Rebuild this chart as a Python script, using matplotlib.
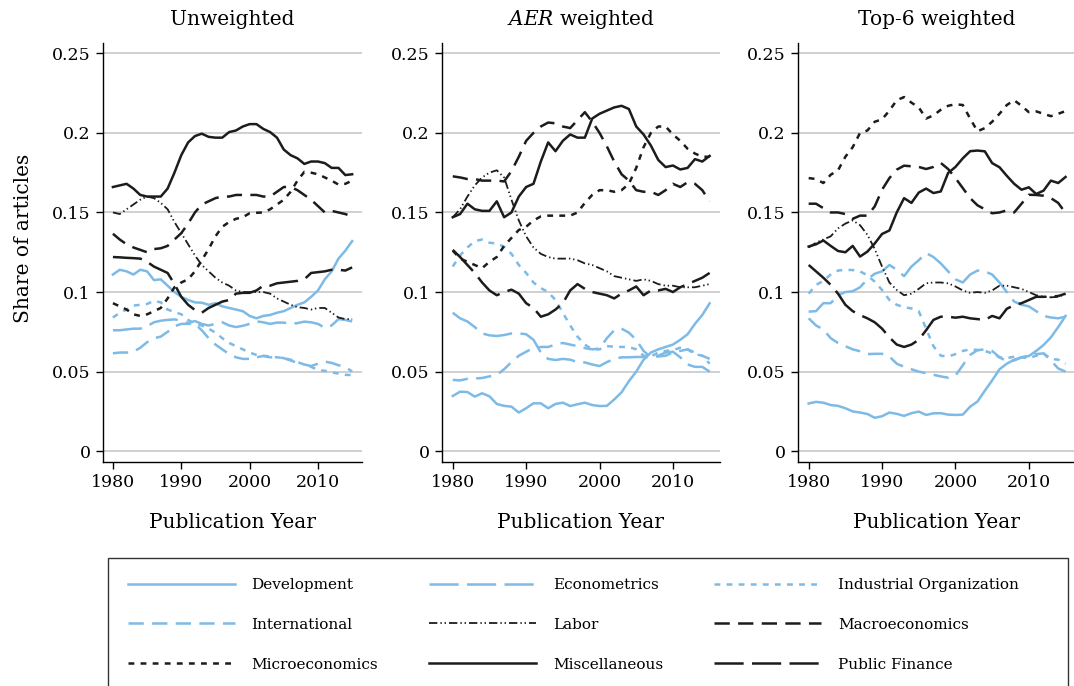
import matplotlib
matplotlib.use('Agg')
import matplotlib.pyplot as plt
from matplotlib.ticker import FuncFormatter
from matplotlib.patches import Rectangle

years = list(range(1980, 2016))

# 分类名称
topics = ['Development', 'Econometrics', 'Industrial Organization',
          'International', 'Labor', 'Macroeconomics',
          'Microeconomics', 'Miscellaneous', 'Public Finance']
panel_titles = ['Unweighted', r'$\mathit{AER}$ weighted', 'Top-6 weighted']

# ---- Unweighted ----
unw_dev = [0.111, 0.114, 0.113, 0.111, 0.114, 0.113, 0.1075, 0.108, 0.104, 0.100, 0.097, 0.095,
           0.0935, 0.0933, 0.092, 0.093, 0.091, 0.090, 0.089, 0.088, 0.085, 0.0835, 0.085, 0.0856,
           0.087, 0.088, 0.090, 0.092, 0.0935, 0.097, 0.101, 0.108, 0.113, 0.121, 0.126, 0.132]
unw_econ = [0.076, 0.076, 0.0765, 0.077, 0.077, 0.0785, 0.081, 0.082, 0.0825, 0.0828, 0.082, 0.0805,
            0.0818, 0.080, 0.079, 0.080, 0.081, 0.079, 0.078, 0.0788, 0.080, 0.0816, 0.081, 0.080,
            0.0808, 0.0808, 0.080, 0.0805, 0.0814, 0.081, 0.080, 0.0775, 0.079, 0.083, 0.0825, 0.0815]
unw_io = [0.084, 0.087, 0.089, 0.0915, 0.092, 0.0925, 0.0945, 0.0935, 0.089, 0.0875, 0.086, 0.0825,
          0.080, 0.079, 0.077, 0.0745, 0.071, 0.068, 0.066, 0.064, 0.062, 0.0605, 0.060, 0.0595,
          0.059, 0.0585, 0.0575, 0.056, 0.0545, 0.053, 0.051, 0.0505, 0.0495, 0.0488, 0.048, 0.0478]
unw_intl = [0.0615, 0.062, 0.062, 0.0625, 0.065, 0.0685, 0.071, 0.072, 0.075, 0.0785, 0.080, 0.080,
            0.080, 0.076, 0.071, 0.067, 0.064, 0.061, 0.059, 0.058, 0.058, 0.059, 0.0598, 0.059,
            0.059, 0.0585, 0.057, 0.0555, 0.0545, 0.0535, 0.055, 0.0563, 0.0555, 0.054, 0.053, 0.050]
unw_labor = [0.150, 0.149, 0.152, 0.155, 0.158, 0.160, 0.159, 0.156, 0.152, 0.144, 0.137, 0.130,
             0.123, 0.117, 0.113, 0.109, 0.106, 0.104, 0.101, 0.100, 0.100, 0.100, 0.100, 0.099,
             0.096, 0.094, 0.092, 0.0905, 0.090, 0.089, 0.090, 0.090, 0.087, 0.084, 0.083, 0.083]
unw_macro = [0.1366, 0.133, 0.130, 0.128, 0.1265, 0.125, 0.127, 0.1275, 0.129, 0.133, 0.137, 0.143,
             0.150, 0.155, 0.157, 0.159, 0.160, 0.160, 0.161, 0.161, 0.161, 0.161, 0.160, 0.160,
             0.163, 0.166, 0.166, 0.164, 0.161, 0.158, 0.154, 0.150, 0.151, 0.150, 0.149, 0.1475]
unw_micro = [0.093, 0.091, 0.089, 0.086, 0.085, 0.086, 0.088, 0.090, 0.096, 0.103, 0.106, 0.108,
             0.113, 0.120, 0.127, 0.135, 0.141, 0.144, 0.146, 0.147, 0.1495, 0.1498, 0.150, 0.152,
             0.155, 0.158, 0.163, 0.170, 0.1755, 0.175, 0.174, 0.172, 0.170, 0.1675, 0.168, 0.170]
unw_misc = [0.166, 0.167, 0.168, 0.165, 0.161, 0.160, 0.160, 0.160, 0.165, 0.175, 0.186, 0.194,
            0.198, 0.1995, 0.1975, 0.197, 0.197, 0.2005, 0.2015, 0.204, 0.2055, 0.2055, 0.2025, 0.2005,
            0.197, 0.1895, 0.186, 0.184, 0.1805, 0.182, 0.182, 0.181, 0.178, 0.178, 0.1735, 0.174]
unw_pf = [0.122, 0.1218, 0.1215, 0.1213, 0.121, 0.119, 0.116, 0.114, 0.112, 0.105, 0.097, 0.092,
          0.0887, 0.087, 0.090, 0.092, 0.094, 0.095, 0.099, 0.0995, 0.0995, 0.101, 0.104, 0.104,
          0.1055, 0.106, 0.1065, 0.107, 0.108, 0.112, 0.1125, 0.113, 0.114, 0.114, 0.1135, 0.1155]

# ---- AER weighted ----
aer_dev = [0.0347, 0.0374, 0.0372, 0.0343, 0.0364, 0.0345, 0.0297, 0.0285, 0.028, 0.0243, 0.027, 0.0301,
           0.0301, 0.027, 0.0297, 0.0305, 0.0284, 0.0295, 0.0305, 0.029, 0.0284, 0.0285, 0.0325, 0.037,
           0.044, 0.050, 0.0575, 0.062, 0.064, 0.0655, 0.067, 0.070, 0.0735, 0.080, 0.0856, 0.0929]
aer_econ = [0.087, 0.0835, 0.0815, 0.078, 0.074, 0.0728, 0.0724, 0.073, 0.074, 0.074, 0.0735, 0.070,
            0.062, 0.058, 0.0573, 0.058, 0.0575, 0.056, 0.0558, 0.0545, 0.0535, 0.056, 0.058, 0.059,
            0.059, 0.0592, 0.0592, 0.059, 0.060, 0.062, 0.0625, 0.059, 0.0545, 0.053, 0.053, 0.050]
aer_io = [0.116, 0.123, 0.128, 0.132, 0.133, 0.131, 0.1305, 0.1285, 0.124, 0.117, 0.112, 0.106,
          0.1025, 0.100, 0.095, 0.087, 0.079, 0.072, 0.067, 0.064, 0.064, 0.066, 0.0657, 0.0655,
          0.0655, 0.064, 0.060, 0.0595, 0.062, 0.063, 0.0635, 0.065, 0.064, 0.061, 0.060, 0.055]
aer_intl = [0.0448, 0.0445, 0.0455, 0.0457, 0.046, 0.047, 0.048, 0.0515, 0.056, 0.060, 0.0625, 0.065,
            0.0655, 0.0655, 0.067, 0.068, 0.067, 0.066, 0.0648, 0.064, 0.0645, 0.071, 0.076, 0.077,
            0.0745, 0.070, 0.063, 0.059, 0.0595, 0.060, 0.062, 0.063, 0.064, 0.062, 0.060, 0.058]
aer_labor = [0.147, 0.152, 0.160, 0.167, 0.172, 0.175, 0.1765, 0.172, 0.158, 0.145, 0.135, 0.128,
             0.124, 0.122, 0.121, 0.121, 0.121, 0.120, 0.118, 0.117, 0.115, 0.113, 0.110, 0.109,
             0.108, 0.107, 0.108, 0.107, 0.105, 0.104, 0.104, 0.103, 0.103, 0.103, 0.104, 0.105]
aer_macro = [0.1727, 0.172, 0.171, 0.171, 0.170, 0.170, 0.170, 0.1695, 0.176, 0.185, 0.195, 0.200,
             0.204, 0.2065, 0.206, 0.204, 0.203, 0.208, 0.213, 0.207, 0.200, 0.1915, 0.182, 0.174,
             0.170, 0.164, 0.163, 0.163, 0.161, 0.164, 0.168, 0.166, 0.169, 0.168, 0.164, 0.157]
aer_micro = [0.126, 0.121, 0.119, 0.117, 0.115, 0.119, 0.122, 0.129, 0.134, 0.139, 0.141, 0.145,
             0.1475, 0.148, 0.148, 0.148, 0.148, 0.150, 0.156, 0.161, 0.164, 0.164, 0.163, 0.164,
             0.168, 0.178, 0.191, 0.200, 0.204, 0.204, 0.199, 0.195, 0.190, 0.187, 0.185, 0.185]
aer_misc = [0.147, 0.149, 0.1555, 0.152, 0.151, 0.151, 0.157, 0.147, 0.150, 0.160, 0.166, 0.168,
            0.182, 0.194, 0.1885, 0.195, 0.199, 0.197, 0.197, 0.209, 0.212, 0.214, 0.216, 0.217,
            0.215, 0.204, 0.199, 0.192, 0.183, 0.1785, 0.1795, 0.177, 0.178, 0.1835, 0.182, 0.1855]
aer_pf = [0.1265, 0.122, 0.117, 0.112, 0.106, 0.101, 0.098, 0.100, 0.1015, 0.099, 0.093, 0.090,
          0.0845, 0.086, 0.089, 0.093, 0.101, 0.105, 0.102, 0.100, 0.099, 0.098, 0.096, 0.099,
          0.101, 0.1035, 0.098, 0.101, 0.101, 0.102, 0.100, 0.103, 0.105, 0.107, 0.109, 0.112]

# ---- Top-6 weighted ----
top_dev = [0.030, 0.031, 0.0305, 0.029, 0.0285, 0.027, 0.025, 0.0243, 0.0234, 0.021, 0.022, 0.0243,
           0.0235, 0.0222, 0.0239, 0.0249, 0.0228, 0.0238, 0.0239, 0.023, 0.0228, 0.023, 0.028, 0.0312,
           0.038, 0.0445, 0.0515, 0.055, 0.0575, 0.059, 0.0598, 0.063, 0.0667, 0.0715, 0.078, 0.085]
top_econ = [0.0877, 0.088, 0.093, 0.093, 0.098, 0.100, 0.1005, 0.103, 0.108, 0.1115, 0.113, 0.117,
            0.114, 0.110, 0.116, 0.120, 0.1245, 0.122, 0.118, 0.113, 0.108, 0.106, 0.111, 0.1135,
            0.113, 0.111, 0.106, 0.100, 0.094, 0.092, 0.091, 0.088, 0.085, 0.084, 0.0835, 0.0845]
top_io = [0.099, 0.1045, 0.107, 0.111, 0.1135, 0.114, 0.1138, 0.113, 0.1105, 0.1065, 0.1013, 0.095,
          0.092, 0.0905, 0.0897, 0.088, 0.077, 0.066, 0.060, 0.0595, 0.061, 0.063, 0.064, 0.0636,
          0.063, 0.0615, 0.059, 0.0585, 0.0594, 0.059, 0.0585, 0.060, 0.0615, 0.058, 0.0575, 0.055]
top_intl = [0.0835, 0.079, 0.0765, 0.071, 0.068, 0.066, 0.064, 0.0628, 0.061, 0.0612, 0.0612, 0.0595,
            0.055, 0.053, 0.0515, 0.050, 0.049, 0.048, 0.047, 0.0462, 0.0475, 0.054, 0.0605, 0.0635,
            0.064, 0.063, 0.059, 0.0565, 0.057, 0.059, 0.060, 0.061, 0.0615, 0.057, 0.052, 0.050]
top_labor = [0.128, 0.131, 0.133, 0.135, 0.140, 0.143, 0.145, 0.142, 0.136, 0.127, 0.116, 0.106,
             0.1013, 0.098, 0.099, 0.102, 0.1055, 0.106, 0.106, 0.1055, 0.1035, 0.101, 0.0995, 0.100,
             0.0995, 0.101, 0.104, 0.104, 0.103, 0.102, 0.100, 0.098, 0.097, 0.0967, 0.097, 0.0987]
top_macro = [0.1555, 0.1555, 0.1527, 0.150, 0.150, 0.149, 0.146, 0.148, 0.148, 0.1538, 0.1643, 0.1716,
             0.1769, 0.1794, 0.179, 0.1786, 0.1773, 0.1786, 0.1811, 0.1773, 0.1716, 0.1653, 0.159, 0.1545,
             0.152, 0.1495, 0.150, 0.1513, 0.150, 0.1555, 0.1611, 0.161, 0.1605, 0.159, 0.156, 0.1496]
top_micro = [0.1716, 0.171, 0.1685, 0.1737, 0.1765, 0.185, 0.191, 0.200, 0.2015, 0.207, 0.2085, 0.214,
             0.2205, 0.2225, 0.219, 0.216, 0.209, 0.211, 0.2145, 0.217, 0.218, 0.2175, 0.209, 0.201,
             0.203, 0.207, 0.212, 0.2175, 0.2205, 0.217, 0.213, 0.2135, 0.212, 0.2105, 0.212, 0.2137]
top_misc = [0.1286, 0.130, 0.1324, 0.129, 0.1258, 0.125, 0.129, 0.1223, 0.1254, 0.1305, 0.1365, 0.1387,
            0.150, 0.159, 0.156, 0.1625, 0.165, 0.1622, 0.1632, 0.1748, 0.1786, 0.184, 0.1885, 0.1889,
            0.1884, 0.181, 0.1784, 0.173, 0.168, 0.1643, 0.1658, 0.1616, 0.1637, 0.170, 0.1685, 0.1723]
top_pf = [0.117, 0.113, 0.109, 0.1045, 0.099, 0.092, 0.088, 0.0855, 0.0835, 0.081, 0.077, 0.0715,
          0.067, 0.0655, 0.067, 0.070, 0.076, 0.0825, 0.0845, 0.0845, 0.0839, 0.0845, 0.0835, 0.083,
          0.0825, 0.085, 0.0835, 0.0895, 0.0918, 0.093, 0.095, 0.097, 0.097, 0.0972, 0.0975, 0.099]

panels = [
    [unw_dev, unw_econ, unw_io, unw_intl, unw_labor, unw_macro, unw_micro, unw_misc, unw_pf],
    [aer_dev, aer_econ, aer_io, aer_intl, aer_labor, aer_macro, aer_micro, aer_misc, aer_pf],
    [top_dev, top_econ, top_io, top_intl, top_labor, top_macro, top_micro, top_misc, top_pf],
]

# 线型
blue = '#7dbae6'
black = '#1c1c1c'
styles = [
    dict(color=blue, linestyle='-'),
    dict(color=blue, dashes=(21, 6)),
    dict(color=blue, dashes=(4.2, 4.5)),
    dict(color=blue, dashes=(11, 6)),
    dict(color=black, dashes=(6, 2.2, 1.0, 2.0, 1.0, 2.2), lw=1.3),
    dict(color=black, dashes=(11, 6)),
    dict(color=black, dashes=(4.2, 4.5)),
    dict(color=black, linestyle='-'),
    dict(color=black, dashes=(21, 6)),
]

plt.rcParams['font.family'] = ['DejaVu Serif']
plt.rcParams['mathtext.fontset'] = 'dejavuserif'
plt.rcParams['lines.scale_dashes'] = False

fig = plt.figure(figsize=(10.74, 6.86), dpi=100)
rects = [[0.0956, 0.326, 0.2412, 0.6114],
         [0.4113, 0.326, 0.2590, 0.6114],
         [0.7427, 0.326, 0.2590, 0.6114]]

handles = []
for k, (rect, series) in enumerate(zip(rects, panels)):
    ax = fig.add_axes(rect)
    for name, vals, st in zip(topics, series, styles):
        kw = dict(lw=1.8)
        kw.update(st)
        ln, = ax.plot(years, vals, label=name, **kw)
        if k == 0:
            handles.append(ln)
    ax.set_xlim(1978.5, 2016.4)
    ax.set_ylim(-0.007, 0.2565)
    ax.set_xticks([1980, 1990, 2000, 2010])
    ax.set_yticks([0, 0.05, 0.1, 0.15, 0.2, 0.25])
    ax.yaxis.set_major_formatter(FuncFormatter(lambda v, p: f'{v:g}'))
    ax.grid(axis='y', color='#c8c8c8', lw=1.2)
    ax.set_axisbelow(True)
    for s in ['top', 'right']:
        ax.spines[s].set_visible(False)
    for s in ['left', 'bottom']:
        ax.spines[s].set_linewidth(1.0)
    ax.tick_params(labelsize=12.5, length=5, width=1.0, direction='out')
    ax.set_title(panel_titles[k], fontsize=14.5, pad=13)
    ax.set_xlabel('Publication Year', fontsize=14.5, labelpad=16)
    if k == 0:
        ax.set_ylabel('Share of articles', fontsize=14.5)
        ax.yaxis.set_label_coords(-0.27, 0.535)

# 图例按行排列
order = [0, 3, 6, 1, 4, 7, 2, 5, 8]
leg = fig.legend([handles[i] for i in order], [topics[i] for i in order],
                 loc='upper left', ncol=3, bbox_to_anchor=(108 / 1074, 1 - 558 / 686),
                 borderaxespad=0, fontsize=11, handlelength=7.0, handletextpad=1.1,
                 borderpad=1.3, labelspacing=1.7, columnspacing=3.35, frameon=False)
fig.patches.append(Rectangle((108 / 1074, -0.05), 960 / 1074, 1 - 558 / 686 + 0.05,
                             transform=fig.transFigure, fill=False,
                             edgecolor='#333333', lw=1.0))

fig.savefig('out.png', dpi=100)
